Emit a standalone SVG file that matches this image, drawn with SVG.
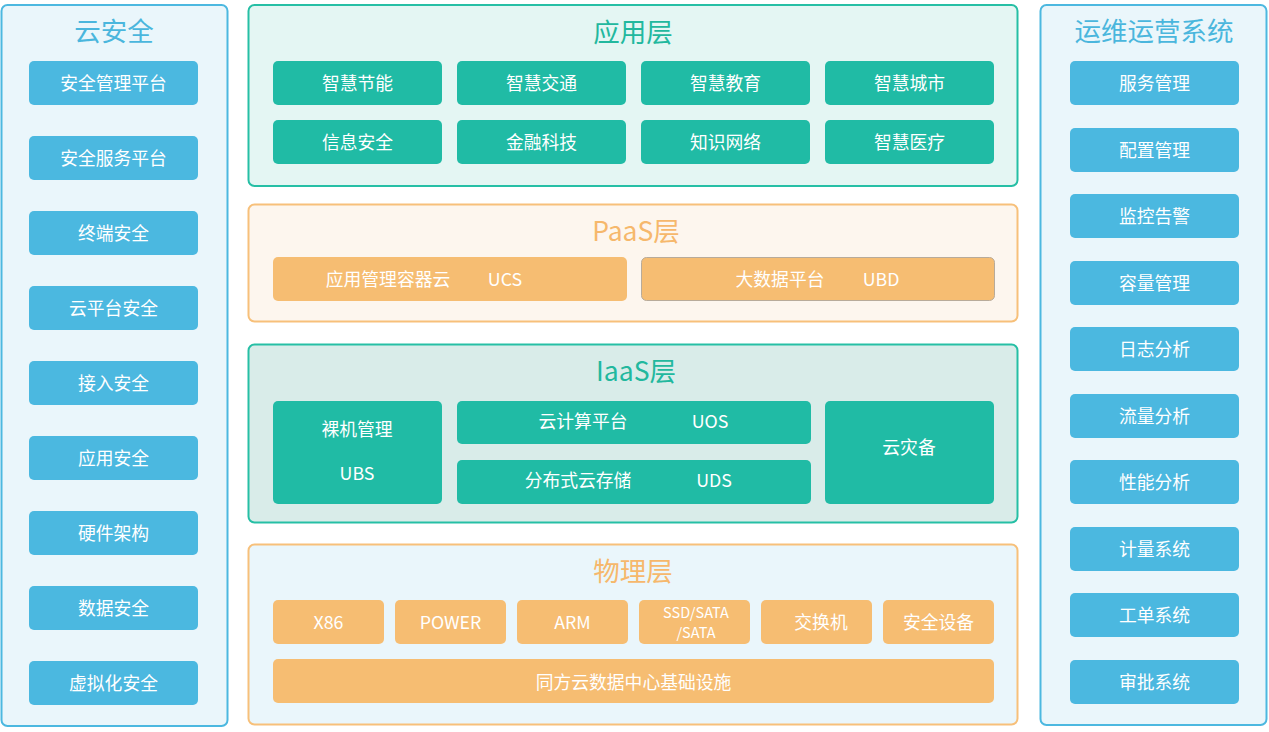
<svg xmlns="http://www.w3.org/2000/svg" width="1269" height="732" viewBox="0 0 1269 732">
<style>
text{font-family:"Noto Sans CJK SC","Noto Sans",sans-serif;text-anchor:middle;dominant-baseline:central;transform:translateY(-1px)}
.it{font-size:17.8px;fill:#ffffff}
.sm{font-size:14.5px;fill:#ffffff}
.tt{font-size:26.5px}
.side{fill:#eaf6fb;stroke:#4cb8e0;stroke-width:2}
.b{fill:#4bb8e0}
.g{fill:#20bba5}
.o{fill:#f6bd72}
.tb{fill:#4ab6dd}
.tg{fill:#22b89e}
.to{fill:#f6b86c}
</style>
<rect width="1269" height="732" fill="#ffffff"/>
<g id="cloud-security">
<rect class="side" x="1.5" y="5" width="226" height="721" rx="6"/>
<text class="tt tb" x="114" y="30">云安全</text>
<rect class="b" x="29" y="61" width="169" height="44" rx="5"/><text class="it" x="113.5" y="83">安全管理平台</text>
<rect class="b" x="29" y="136" width="169" height="44" rx="5"/><text class="it" x="113.5" y="158">安全服务平台</text>
<rect class="b" x="29" y="211" width="169" height="44" rx="5"/><text class="it" x="113.5" y="233">终端安全</text>
<rect class="b" x="29" y="286" width="169" height="44" rx="5"/><text class="it" x="113.5" y="308">云平台安全</text>
<rect class="b" x="29" y="361" width="169" height="44" rx="5"/><text class="it" x="113.5" y="383">接入安全</text>
<rect class="b" x="29" y="436" width="169" height="44" rx="5"/><text class="it" x="113.5" y="458">应用安全</text>
<rect class="b" x="29" y="511" width="169" height="44" rx="5"/><text class="it" x="113.5" y="533">硬件架构</text>
<rect class="b" x="29" y="586" width="169" height="44" rx="5"/><text class="it" x="113.5" y="608">数据安全</text>
<rect class="b" x="29" y="661" width="169" height="44" rx="5"/><text class="it" x="113.5" y="683">虚拟化安全</text>
</g>
<g id="ops-system">
<rect class="side" x="1040.5" y="5" width="226" height="720" rx="6"/>
<text class="tt tb" x="1154" y="30">运维运营系统</text>
<rect class="b" x="1070" y="61" width="169" height="44" rx="5"/><text class="it" x="1154.5" y="83">服务管理</text>
<rect class="b" x="1070" y="128" width="169" height="44" rx="5"/><text class="it" x="1154.5" y="150">配置管理</text>
<rect class="b" x="1070" y="194" width="169" height="44" rx="5"/><text class="it" x="1154.5" y="216">监控告警</text>
<rect class="b" x="1070" y="261" width="169" height="44" rx="5"/><text class="it" x="1154.5" y="283">容量管理</text>
<rect class="b" x="1070" y="327" width="169" height="44" rx="5"/><text class="it" x="1154.5" y="349">日志分析</text>
<rect class="b" x="1070" y="394" width="169" height="44" rx="5"/><text class="it" x="1154.5" y="416">流量分析</text>
<rect class="b" x="1070" y="460" width="169" height="44" rx="5"/><text class="it" x="1154.5" y="482">性能分析</text>
<rect class="b" x="1070" y="527" width="169" height="44" rx="5"/><text class="it" x="1154.5" y="549">计量系统</text>
<rect class="b" x="1070" y="593" width="169" height="44" rx="5"/><text class="it" x="1154.5" y="615">工单系统</text>
<rect class="b" x="1070" y="660" width="169" height="44" rx="5"/><text class="it" x="1154.5" y="682">审批系统</text>
</g>
<g id="app-layer">
<rect x="248.5" y="5" width="769" height="181" rx="6" fill="#e4f6f3" stroke="#26bfa5" stroke-width="2"/>
<text class="tt tg" x="633" y="31">应用层</text>
<rect class="g" x="273" y="61" width="169" height="44" rx="5"/><text class="it" x="357.5" y="83">智慧节能</text>
<rect class="g" x="457" y="61" width="169" height="44" rx="5"/><text class="it" x="541.5" y="83">智慧交通</text>
<rect class="g" x="641" y="61" width="169" height="44" rx="5"/><text class="it" x="725.5" y="83">智慧教育</text>
<rect class="g" x="825" y="61" width="169" height="44" rx="5"/><text class="it" x="909.5" y="83">智慧城市</text>
<rect class="g" x="273" y="120" width="169" height="44" rx="5"/><text class="it" x="357.5" y="142">信息安全</text>
<rect class="g" x="457" y="120" width="169" height="44" rx="5"/><text class="it" x="541.5" y="142">金融科技</text>
<rect class="g" x="641" y="120" width="169" height="44" rx="5"/><text class="it" x="725.5" y="142">知识网络</text>
<rect class="g" x="825" y="120" width="169" height="44" rx="5"/><text class="it" x="909.5" y="142">智慧医疗</text>
</g>
<g id="paas-layer">
<rect x="248.5" y="204.5" width="769" height="117" rx="6" fill="#fdf6ee" stroke="#f7c07a" stroke-width="2"/>
<text class="tt to" x="636" y="230">PaaS层</text>
<rect class="o" x="273" y="257" width="354" height="44" rx="5"/>
<text class="it" x="388" y="279">应用管理容器云</text><text class="it" x="505" y="279">UCS</text>
<rect class="o" x="641.5" y="257.5" width="353" height="43" rx="5" stroke="#b8ab9a" stroke-width="1"/>
<text class="it" x="780" y="279">大数据平台</text><text class="it" x="881" y="279">UBD</text>
</g>
<g id="iaas-layer">
<rect x="248.5" y="344.5" width="769" height="178" rx="6" fill="#d9ece9" stroke="#26bfa5" stroke-width="2"/>
<text class="tt tg" x="636" y="370">IaaS层</text>
<rect class="g" x="273" y="401" width="169" height="103" rx="5"/>
<text class="it" x="357" y="429">裸机管理</text><text class="it" x="357" y="473">UBS</text>
<rect class="g" x="457" y="401" width="354" height="43" rx="5"/>
<text class="it" x="583" y="421">云计算平台</text><text class="it" x="710" y="421">UOS</text>
<rect class="g" x="457" y="460" width="354" height="44" rx="5"/>
<text class="it" x="578" y="480">分布式云存储</text><text class="it" x="714" y="480">UDS</text>
<rect class="g" x="825" y="401" width="169" height="103" rx="5"/>
<text class="it" x="909" y="447">云灾备</text>
</g>
<g id="physical-layer">
<rect x="248.5" y="544.5" width="769" height="180" rx="6" fill="#eaf6fb" stroke="#f7c07a" stroke-width="2"/>
<text class="tt to" x="633" y="570">物理层</text>
<rect class="o" x="273" y="600" width="111" height="44" rx="5"/><text class="it" x="328.5" y="622">X86</text>
<rect class="o" x="395" y="600" width="111" height="44" rx="5"/><text class="it" x="450.5" y="622">POWER</text>
<rect class="o" x="517" y="600" width="111" height="44" rx="5"/><text class="it" x="572.5" y="622">ARM</text>
<rect class="o" x="639" y="600" width="111" height="44" rx="5"/><text class="sm" x="696" y="612">SSD/SATA</text><text class="sm" x="696" y="632">/SATA</text>
<rect class="o" x="761" y="600" width="111" height="44" rx="5"/><text class="it" x="821" y="622">交换机</text>
<rect class="o" x="883" y="600" width="111" height="44" rx="5"/><text class="it" x="938.5" y="622">安全设备</text>
<rect class="o" x="273" y="659" width="721" height="44" rx="5"/><text class="it" x="633.5" y="682">同方云数据中心基础设施</text>
</g>
<g id="connectors"/>
</svg>
